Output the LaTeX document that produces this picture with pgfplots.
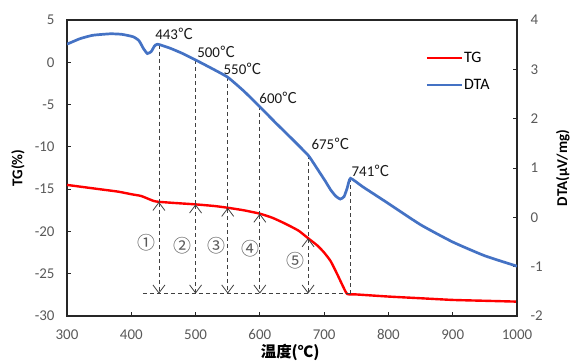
\documentclass[border=0pt]{standalone}
\usepackage{fontspec}
\setmainfont{Carlito}
\newfontfamily\cjk{Noto Sans CJK SC}
\usepackage{pgfplots}
\pgfplotsset{compat=1.18}
\usetikzlibrary{arrows.meta}
\definecolor{tgred}{HTML}{FF0000}
\definecolor{dtablue}{HTML}{4472C4}
\definecolor{tickgray}{HTML}{595959}
\definecolor{dashgray}{HTML}{404040}
\newcommand{\degC}{{\cjk ℃}}
\pgfplotstableread{
T v
300 -14.5
320 -14.7
350 -15.0
380 -15.3
400 -15.6
415 -15.8
425 -16.1
435 -16.4
443 -16.5
470 -16.65
500 -16.8
530 -17.0
550 -17.2
575 -17.5
600 -17.9
620 -18.4
640 -19.1
660 -19.9
675 -20.8
690 -21.7
700 -22.5
710 -23.5
720 -25.0
730 -26.6
736 -27.4
750 -27.45
800 -27.7
850 -27.9
900 -28.1
950 -28.2
1000 -28.3
}\tgdata
\pgfplotstableread{
T v
300 3.51
320 3.62
340 3.69
367 3.72
385 3.71
403 3.66
412 3.58
419 3.42
425 3.32
431 3.36
436 3.47
441 3.51
460 3.43
480 3.32
500 3.19
525 3.02
550 2.84
575 2.56
600 2.24
625 1.91
650 1.59
675 1.26
685 1.07
694 0.89
702 0.73
710 0.56
718 0.43
725 0.37
731 0.42
736 0.60
741 0.79
760 0.62
780 0.45
800 0.28
850 -0.15
900 -0.50
950 -0.78
1000 -0.99
}\dtadata
\begin{document}
\begin{tikzpicture}[x=1bp,y=1bp]
\useasboundingbox (-67,-45) rectangle (504,316);
\begin{axis}[
  at={(0,0)}, anchor=south west,
  scale only axis, width=450bp, height=296bp,
  xmin=300, xmax=1000, ymin=-30, ymax=5,
  xtick={300,400,...,1000}, ytick={-30,-25,...,5},
  xtick pos=bottom, ytick pos=left, tick align=inside,
  major tick length=4bp,
  axis line style={line width=1.2bp, black!85},
  tick style={line width=1bp, black!85},
  ticklabel style={font=\fontsize{15}{17}\selectfont, text=tickgray},
  xticklabel style={yshift=-10bp},
  yticklabel style={xshift=-9bp},
  /pgf/number format/assume math mode=true,
  /pgf/number format/1000 sep={},
  ylabel={\textbf{TG(\%)}},
  ylabel style={at={(axis description cs:-0.109,0.5)}, anchor=center, font=\fontsize{15}{17}\selectfont},
  xlabel={{\cjk\bfseries 温度(℃)}},
  xlabel style={at={(axis description cs:0.496,-0.122)}, anchor=center, font=\fontsize{15.5}{17}\selectfont},
  legend style={at={(0.796,0.895)}, anchor=north west, draw=none, fill=none,
    font=\fontsize{16}{18}\selectfont, row sep=13bp, inner sep=0pt,
    nodes={inner sep=1bp}},
  legend cell align=left,
  legend image code/.code={\draw[#1] (0bp,0bp) -- (35bp,0bp);},
]
\addplot[tgred, line width=2.4bp, smooth, tension=0.3] table[x=T,y=v]{\tgdata};
\addlegendentry{TG}
\addlegendimage{dtablue, line width=2.7bp}
\addlegendentry{DTA}
% annotations
\begin{scope}[dashgray, line width=0.8bp, dash pattern=on 4bp off 3bp]
\draw (axis cs:418,-27.35) -- (axis cs:741,-27.35);
\draw (axis cs:443,2.1) -- (axis cs:443,-16.5);
\draw (axis cs:500,0.27) -- (axis cs:500,-16.8);
\draw (axis cs:550,-1.77) -- (axis cs:550,-17.2);
\draw (axis cs:600,-5.2) -- (axis cs:600,-17.9);
\draw (axis cs:675,-10.99) -- (axis cs:675,-20.8);
\draw (axis cs:741,-13.7) -- (axis cs:741,-27.35);
\end{scope}
\begin{scope}[dashgray, line width=0.8bp, dash pattern=on 4bp off 3bp,
  arrows={Straight Barb[length=8bp,width=12bp,line width=0.8bp]-Straight Barb[length=8bp,width=12bp,line width=0.8bp]}]
\draw (axis cs:443,-16.5) -- (axis cs:443,-27.35);
\draw (axis cs:500,-16.8) -- (axis cs:500,-27.35);
\draw (axis cs:550,-17.2) -- (axis cs:550,-27.35);
\draw (axis cs:600,-17.9) -- (axis cs:600,-27.35);
\draw (axis cs:675,-20.8) -- (axis cs:675,-27.35);
\end{scope}
\begin{scope}[font=\fontsize{15}{17}\selectfont, text=black!90]
\node at (axis cs:466.7,3.35) {443\degC};
\node at (axis cs:532,1.22) {500\degC};
\node at (axis cs:573,-0.79) {550\degC};
\node at (axis cs:628.7,-4.2) {600\degC};
\node at (axis cs:709.7,-9.6) {675\degC};
\node at (axis cs:772,-12.8) {741\degC};
\end{scope}
\begin{scope}[font=\cjk\fontsize{18}{20}\selectfont, text=tickgray]
\node at (axis cs:424,-21.3) {①};
\node at (axis cs:480,-21.7) {②};
\node at (axis cs:533,-21.7) {③};
\node at (axis cs:585,-22.0) {④};
\node at (axis cs:655,-23.5) {⑤};
\end{scope}
\end{axis}
\begin{axis}[
  at={(0,0)}, anchor=south west,
  scale only axis, width=450bp, height=296bp,
  xmin=300, xmax=1000, ymin=-2, ymax=4,
  axis x line=none, axis y line*=right,
  ytick={-2,-1,...,4}, tick align=inside,
  major tick length=4bp,
  axis line style={line width=1.2bp, black!85, -},
  tick style={line width=1bp, black!85},
  ticklabel style={font=\fontsize{15}{17}\selectfont, text=tickgray},
  yticklabel style={xshift=10bp},
  /pgf/number format/assume math mode=true,
  ylabel={\textbf{DTA(μV/mg)}},
  ylabel style={at={(axis description cs:1.102,0.5)}, anchor=center, font=\fontsize{15}{17}\selectfont},
]
\addplot[dtablue, line width=2.7bp, smooth, tension=0.3] table[x=T,y=v]{\dtadata};
\end{axis}
\end{tikzpicture}
\end{document}
